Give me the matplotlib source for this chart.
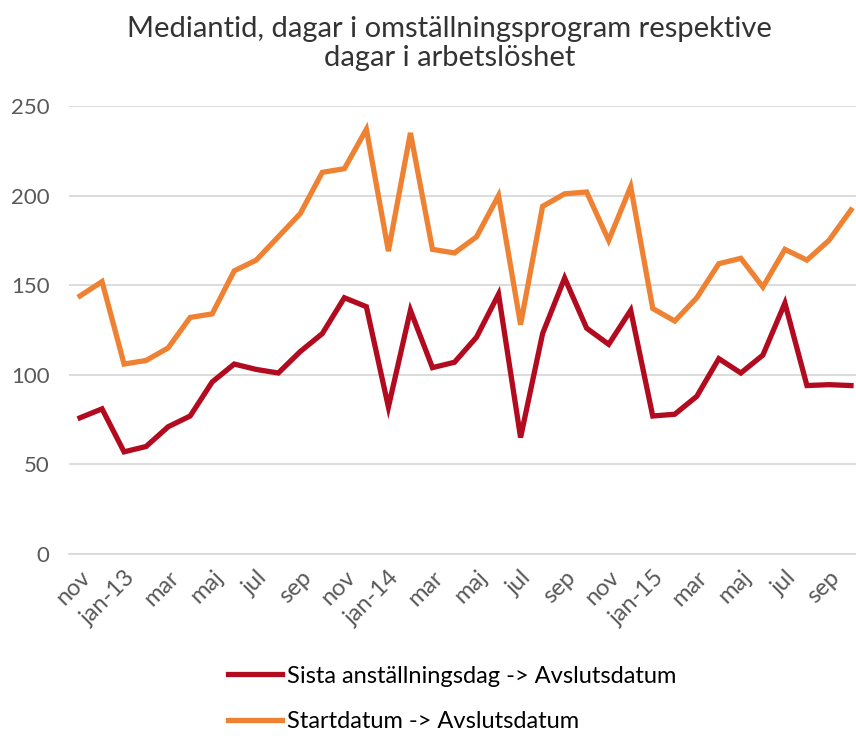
import matplotlib
matplotlib.use("Agg")
import matplotlib.pyplot as plt

# monthly values, nov 2012 - okt 2015
months = ["nov", "dec", "jan-13", "feb", "mar", "apr", "maj", "jun", "jul", "aug", "sep", "okt",
          "nov", "dec", "jan-14", "feb", "mar", "apr", "maj", "jun", "jul", "aug", "sep", "okt",
          "nov", "dec", "jan-15", "feb", "mar", "apr", "maj", "jun", "jul", "aug", "sep", "okt"]

sista_anst = [76, 81, 57, 60, 71, 77, 96, 106, 103, 101, 113, 123,
              143, 138, 82, 136, 104, 107, 121, 145, 65, 123, 154, 126,
              117, 136, 77, 78, 88, 109, 101, 111, 140, 94, 94.5, 94]

startdatum = [144, 152, 106, 108, 115, 132, 134, 158, 164, 177, 190, 213,
              215, 237, 169, 235, 170, 168, 177, 200, 128, 194, 201, 202,
              175, 205, 137, 130, 143, 162, 165, 149, 170, 164, 175, 192]

series_names = ["Sista anställningsdag -> Avslutsdatum", "Startdatum -> Avslutsdatum"]
yticks = [0, 50, 100, 150, 200, 250]

RED = "#B20A1E"
ORANGE = "#EF8232"
GREY = "#595959"

fig = plt.figure(figsize=(8.56, 7.36), dpi=100)
ax = fig.add_axes([69 / 856, 182 / 736, 793 / 856, 448 / 736])

x = list(range(len(months)))
ax.plot(x, sista_anst, color=RED, lw=3.8, label=series_names[0], solid_joinstyle="miter")
ax.plot(x, startdatum, color=ORANGE, lw=3.8, label=series_names[1], solid_joinstyle="miter")

ax.set_xlim(-0.5, 35.5)
ax.set_ylim(0, 250)
ax.set_yticks(yticks)
ax.yaxis.grid(True, color="#D9D9D9", lw=1.3)
ax.set_axisbelow(True)
for s in ["top", "right", "left"]:
    ax.spines[s].set_visible(False)
ax.spines["bottom"].set_color("#D9D9D9")
ax.spines["bottom"].set_linewidth(1.3)
ax.tick_params(axis="both", length=0, colors=GREY, labelsize=16)
ax.tick_params(axis="y", pad=14)
for lab in ax.get_yticklabels():
    lab.set_family("Lato")

ax.set_xticks(x[::2])
ax.set_xticklabels(months[::2], rotation=45, ha="right", va="top",
                   rotation_mode="anchor", family="Lato", fontsize=17, color=GREY)
ax.tick_params(axis="x", pad=9)

fig.text(0.525, 0.978, "Mediantid, dagar i omställningsprogram respektive\ndagar i arbetslöshet",
         ha="center", va="top", fontsize=21, family="Lato",
         color="#333333", linespacing=1.15)

fig.legend(loc="center left", bbox_to_anchor=(216 / 856, 37 / 736), frameon=False,
           prop={"family": "Lato", "size": 17}, handlelength=2.3,
           handletextpad=0.2, labelspacing=1.05, borderpad=0)

fig.savefig("out.png", dpi=100)
